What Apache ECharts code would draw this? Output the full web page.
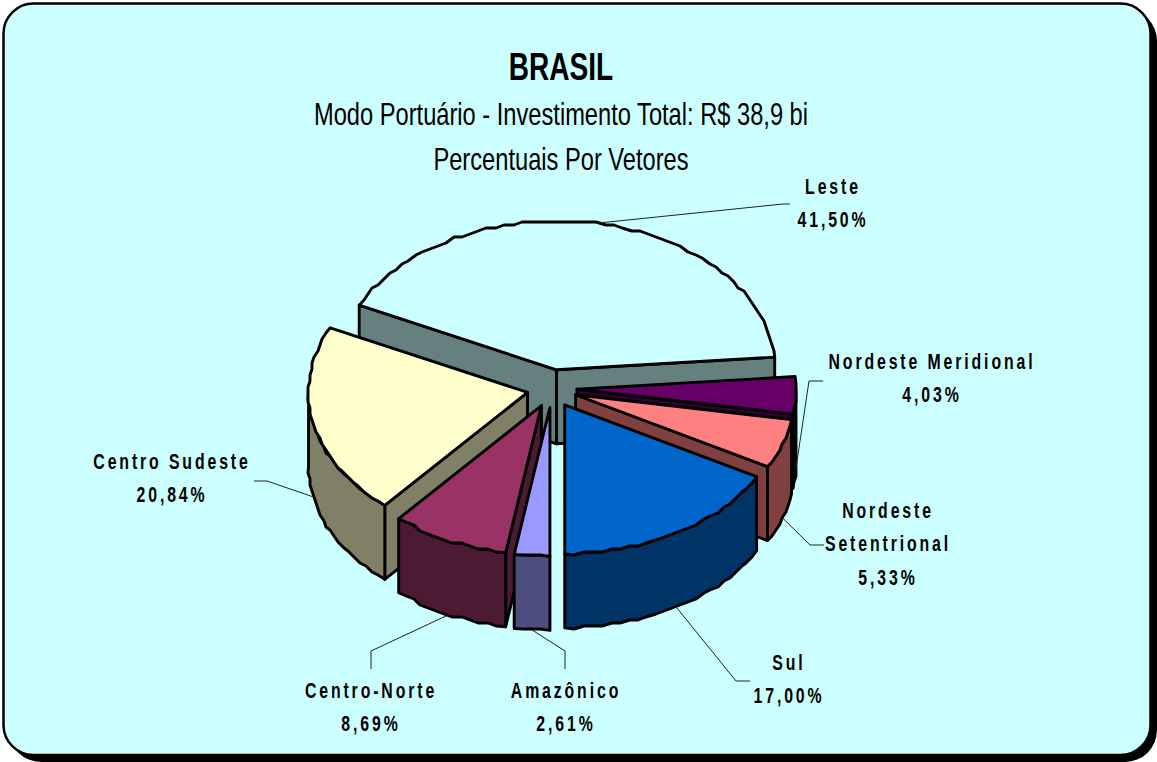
<!DOCTYPE html>
<html>
<head>
<meta charset="utf-8">
<style>
  html, body { margin: 0; padding: 0; background: #fff; }
  #chart { width: 1157px; height: 762px; }
  /* slice captions are set narrow and widely tracked */
  #chart text[style*="bold 22px"] { letter-spacing: 4px; }
</style>
<script src="https://cdn.jsdelivr.net/npm/echarts@6/dist/echarts.min.js"></script>
</head>
<body>
<div id="chart"></div>
<script>
// Investment share per vector, clockwise in pie order
const vectors = ['Leste', 'Nordeste Meridional', 'Nordeste Setentrional', 'Sul', 'Amazônico', 'Centro-Norte', 'Centro Sudeste'];
const shares = [41.50, 4.03, 5.33, 17.00, 2.61, 8.69, 20.84];
const shareLabels = ['41,50%', '4,03%', '5,33%', '17,00%', '2,61%', '8,69%', '20,84%'];
const captionLines = [['Leste'], ['Nordeste Meridional'], ['Nordeste', 'Setentrional'], ['Sul'], ['Amazônico'], ['Centro-Norte'], ['Centro Sudeste']];
const topColors = ['#CCFFFF', '#660066', '#FF8080', '#0066CC', '#9999FF', '#993366', '#FFFFCC'];
const wallColors = ['#668080', '#330033', '#804040', '#003366', '#4D4D80', '#4D1A33', '#808066'];

const titleText = 'BRASIL';
const subtitleLines = ['Modo Portuário - Investimento Total: R$ 38,9 bi', 'Percentuais Por Vetores'];

// Back-to-front painting sequence of the slices
const paintOrder = [0, 1, 2, 3, 6, 5, 4];

// Caption centres and leader elbows, per vector
const captionLayout = [
  { x: 833, y: 203, leader: [[783, 204], [790, 204]], topAnchor: true },
  { x: 932, y: 378, leader: [[809, 381], [823, 381]] },
  { x: 888, y: 544, leader: [[810, 545], [824, 545]] },
  { x: 789, y: 679, leader: [[736, 681], [750, 681]] },
  { x: 566, y: 707, leader: [[565, 651], [565, 669]] },
  { x: 371, y: 707, leader: [[371, 651], [371, 669]] },
  { x: 172, y: 478, leader: [[267, 481], [254, 481]] }
];

// Oblique pie projection
const pie = { cx: 552, cy: 388.5, rx: 219, ry: 149, depth: 74, explodeX: 25, explodeY: 19 };
const startAngle = 180 - (shares[0] + shares[1] + shares[2] + shares[3]) * 3.6;
const RAD = Math.PI / 180;

function sliceGeometry(i) {
  let from = startAngle;
  for (let k = 0; k < i; k++) from += shares[k] * 3.6;
  const to = from + shares[i] * 3.6;
  const mid = (from + to) / 2;
  const ax = pie.cx + pie.explodeX * Math.sin(mid * RAD);
  const ay = pie.cy - pie.explodeY * Math.cos(mid * RAD);
  return { from, to, mid, ax, ay };
}

function rimPoint(g, deg) {
  return [g.ax + pie.rx * Math.sin(deg * RAD), g.ay - pie.ry * Math.cos(deg * RAD)];
}

// Rim polyline sampled coarsely on a pixel grid, the stepped edge of the drawing
function rimPath(g, a, b) {
  const pts = [];
  const n = Math.max(1, Math.round((b - a) / 2.4));
  for (let k = 0; k <= n; k++) {
    const p = rimPoint(g, a + (b - a) * k / n);
    pts.push(k === 0 || k === n ? p : [Math.round(p[0] / 2) * 2, Math.round(p[1] / 3) * 3]);
  }
  return pts;
}

const dropped = (p) => [p[0], p[1] + pie.depth];
const faceStyle = (fill) => ({ fill, stroke: '#000', lineWidth: 2.9, lineJoin: 'round' });
const poly = (points, fill) => ({ type: 'polygon', shape: { points }, style: faceStyle(fill) });

function renderSlice(params, api) {
  const i = api.value(0);
  const g = sliceGeometry(i);
  const apex = [g.ax, g.ay];
  const apexLow = dropped(apex);
  const first = rimPoint(g, g.from);
  const last = rimPoint(g, g.to);
  const children = [];

  // radial walls, only when they turn towards the viewer
  if (Math.sin(g.from * RAD) < -1e-6) {
    children.push(poly([apex, first, dropped(first), apexLow], wallColors[i]));
  }
  if (Math.sin(g.to * RAD) > 1e-6) {
    children.push(poly([apex, last, dropped(last), apexLow], wallColors[i]));
  }

  // outer wall: only the rim between 90 and 270 degrees faces the viewer
  const a = Math.max(g.from, 90), b = Math.min(g.to, 270);
  if (b > a) {
    const rim = rimPath(g, a, b);
    children.push(poly(rim.concat(rim.slice().reverse().map(dropped)), wallColors[i]));
  }

  // top face
  children.push(poly([apex].concat(rimPath(g, g.from, g.to)), topColors[i]));

  // leader line from the rim to the caption
  const layout = captionLayout[i];
  const rimMid = rimPoint(g, g.mid);
  const anchor = layout.topAnchor ? rimMid : dropped(rimMid);
  children.push({
    type: 'polyline',
    shape: { points: [anchor].concat(layout.leader) },
    style: { fill: null, stroke: '#222', lineWidth: 1 }
  });

  // caption
  const lines = captionLines[i].concat(shareLabels[i]);
  children.push({
    type: 'text',
    x: layout.x,
    y: layout.y,
    scaleX: 0.72,
    style: {
      text: lines.join('\n'),
      font: 'bold 22px "Liberation Sans"',
      fill: '#000',
      align: 'center',
      verticalAlign: 'middle',
      lineHeight: 33.5
    }
  });
  return { type: 'group', children };
}

function headingText(text, y, font, scaleX) {
  return {
    type: 'text', x: 561, y, scaleX, silent: true, z: 5,
    style: { text, font, fill: '#000', align: 'center', verticalAlign: 'middle' }
  };
}

const chart = echarts.init(document.getElementById('chart'), null, { renderer: 'svg' });
chart.setOption({
  animation: false,
  backgroundColor: '#fff',
  graphic: [
    // panel shadow and panel
    { type: 'rect', z: 0, silent: true, shape: { x: 9, y: 9, width: 1148, height: 753, r: 32 }, style: { fill: '#000' } },
    { type: 'rect', z: 1, silent: true, shape: { x: 3.5, y: 3.5, width: 1147, height: 751.5, r: 30 }, style: { fill: '#CCFFFF', stroke: '#000', lineWidth: 2.5 } },
    headingText(titleText, 66, 'bold 39px "Liberation Sans"', 0.72),
    headingText(subtitleLines[0], 114, '32px "Liberation Sans"', 0.74),
    headingText(subtitleLines[1], 159, '32px "Liberation Sans"', 0.74)
  ],
  series: [{
    type: 'custom',
    coordinateSystem: 'none',
    silent: true,
    z: 3,
    renderItem: renderSlice,
    data: paintOrder.map((i) => ({ name: vectors[i], value: [i, shares[i]] }))
  }]
});
</script>
</body>
</html>
